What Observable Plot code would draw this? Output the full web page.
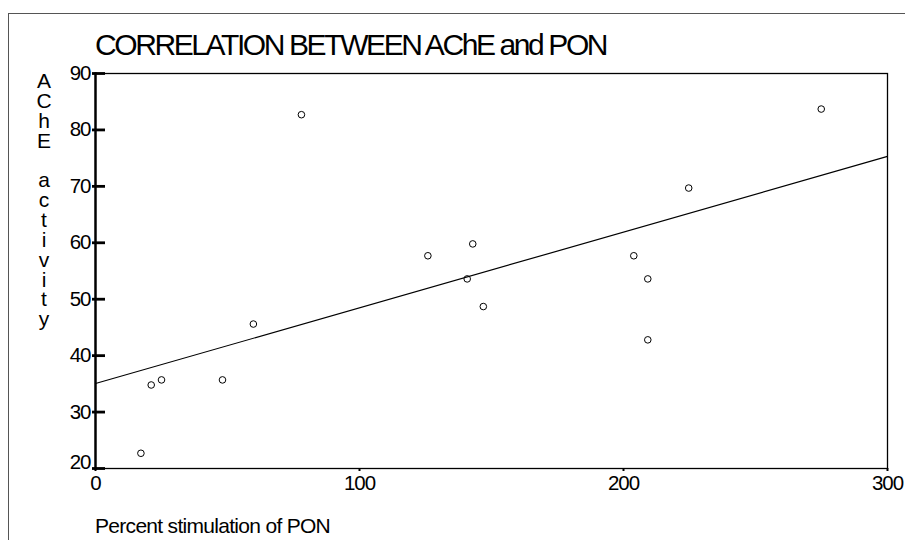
<!DOCTYPE html>
<html><head><meta charset="utf-8">
<script src="https://cdn.jsdelivr.net/npm/d3@7"></script>
<script src="https://cdn.jsdelivr.net/npm/@observablehq/plot@0.6"></script>
<style>html,body{margin:0;padding:0;background:#fff;overflow:hidden}</style>
</head><body><div id="chart"></div>
<script>
const titleText = "CORRELATION BETWEEN AChE and PON";
const xLabelText = "Percent stimulation of PON";
const yLabelText = "AChE activity";
const pon  = [17.2, 21.1, 25.0, 48.1, 59.8, 78.0, 125.9, 140.8, 142.9, 146.9, 203.9, 209.2, 209.2, 224.7, 274.9];
const ache = [22.7, 34.8, 35.7, 35.7, 45.6, 82.7, 57.7, 53.6, 59.8, 48.7, 57.7, 53.6, 42.8, 69.7, 83.7];
const xTicks = [0, 100, 200, 300];
const yTicks = [20, 30, 40, 50, 60, 70, 80, 90];
const xDomain = [0, 300];
const yDomain = [20, 90];

const points = pon.map((x, i) => ({x, y: ache[i]}));
const mx = d3.mean(pon), my = d3.mean(ache);
const slope = d3.sum(points, d => (d.x - mx) * (d.y - my)) / d3.sum(points, d => (d.x - mx) ** 2);
const intercept = my - slope * mx;
const fit = xDomain.map(x => ({x, y: intercept + slope * x}));

const font = "'Liberation Sans', Arial, Helvetica, sans-serif";
const plot = Plot.plot({
  width: 905, height: 540,
  marginLeft: 95, marginRight: 18, marginTop: 73, marginBottom: 72,
  style: {fontFamily: font, fontSize: "20.5px", color: "black", background: "white", letterSpacing: "-1px"},
  x: {domain: xDomain, label: null},
  y: {domain: yDomain, label: null},
  marks: [
    Plot.frame({stroke: "black", strokeWidth: 1.3}),
    Plot.frame({anchor: "left", stroke: "black", strokeWidth: 2.4}),
    Plot.line(fit, {x: "x", y: "y", stroke: "black", strokeWidth: 1.2}),
    Plot.dot(points, {x: "x", y: "y", r: 3.3, stroke: "black", strokeWidth: 1, fill: "none"}),
    Plot.axisY(yTicks, {anchor: "left", tickSize: 13, dx: 10, tickPadding: 2, strokeWidth: 2.8, label: null,
      tickFormat: d => d === 20 ? "" : String(d)}),
    Plot.axisY([20], {anchor: "left", tickSize: 0, tickPadding: 5, lineAnchor: "bottom", label: null}),
    Plot.axisX(xTicks, {anchor: "bottom", tickSize: 3, tickPadding: 4, strokeWidth: 2, label: null})
  ]
});
document.getElementById("chart").appendChild(plot);

const svg = d3.select(plot);
svg.insert("rect", ":first-child")
  .attr("x", 8.5).attr("y", 13.5).attr("width", 920).attr("height", 560)
  .attr("fill", "none").attr("stroke", "#555").attr("stroke-width", 1);
svg.append("text").text(titleText)
  .attr("x", 95).attr("y", 55).attr("text-anchor", "start")
  .style("font-size", "30px").style("letter-spacing", "-2.4px").attr("fill", "black");
svg.append("text").text(xLabelText)
  .attr("x", 95).attr("y", 533).attr("text-anchor", "start")
  .style("font-size", "21px").style("letter-spacing", "-0.7px").attr("fill", "black");
const yl = svg.append("text").attr("text-anchor", "middle").style("font-size", "21px").style("letter-spacing", "0px").attr("fill", "black");
yLabelText.split("").forEach((ch, i) => {
  yl.append("tspan").attr("x", 44).attr("y", 88 + i * 19.85).text(ch === " " ? "\u00a0" : ch);
});
</script></body></html>
